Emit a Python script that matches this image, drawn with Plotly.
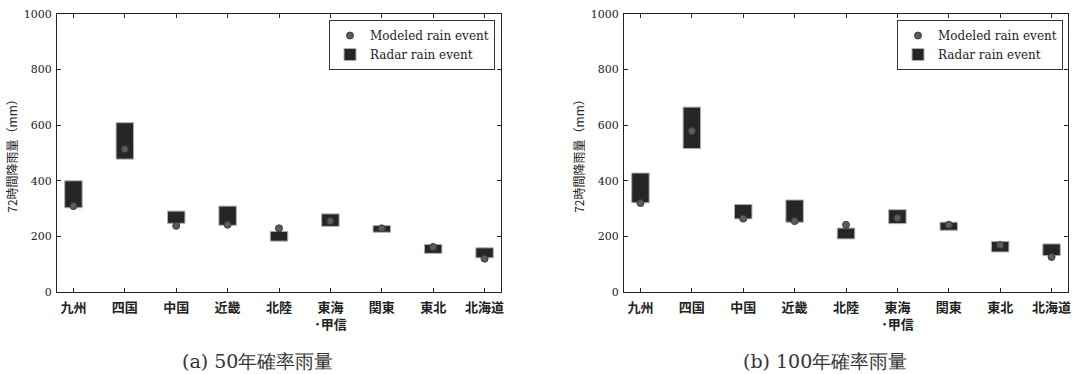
import plotly.graph_objects as go

categories = ["九州", "四国", "中国", "近畿", "北陸", "東海<br>･甲信", "関東", "東北", "北海道"]

# (a) 50-year
radar_top_50 = [400, 609, 291, 309, 218, 281, 239, 171, 159]
radar_bottom_50 = [303, 478, 247, 240, 183, 236, 215, 139, 123]
modeled_50 = [309, 514, 238, 242, 229, 255, 229, 162, 120]

# (b) 100-year
radar_top_100 = [428, 665, 315, 331, 230, 296, 251, 182, 173]
radar_bottom_100 = [321, 516, 263, 251, 191, 246, 222, 144, 131]
modeled_100 = [320, 579, 264, 255, 242, 266, 242, 169, 126]

y_ticks = [0, 200, 400, 600, 800, 1000]
y_title = "72時間降雨量（mm）"
captions = ["(a) 50年確率雨量", "(b) 100年確率雨量"]

W, H = 1079, 374
SERIF = "DejaVu Serif"
SANS = "Noto Sans CJK JP"

fig = go.Figure()

panels = [
    (radar_top_50, radar_bottom_50, modeled_50, "x", "y", "legend"),
    (radar_top_100, radar_bottom_100, modeled_100, "x2", "y2", "legend2"),
]
idx = list(range(len(categories)))
for top, bot, mod, xa, ya, lg in panels:
    fig.add_trace(go.Bar(
        x=idx, y=[t - b for t, b in zip(top, bot)], base=bot,
        width=0.34, xaxis=xa, yaxis=ya, legend=lg,
        name="Radar rain event", legendrank=2,
        marker=dict(color="#262626", line=dict(color="#b0b0b0", width=1)),
    ))
    fig.add_trace(go.Scatter(
        x=idx, y=mod, mode="markers", xaxis=xa, yaxis=ya, legend=lg,
        name="Modeled rain event", legendrank=1,
        marker=dict(color="#5c5c5c", size=7, line=dict(color="#3a3a3a", width=1)),
    ))

ydom = [1 - 292 / H, 1 - 14 / H]
xdoms = [[57 / W, 501 / W], [624 / W, 1068 / W]]
cap_x = [257 / W, 825 / W]

axis_common = dict(
    showline=True, linecolor="#222", linewidth=1, mirror="allticks",
    ticks="inside", ticklen=4, tickcolor="#222", showgrid=False, zeroline=False,
    automargin=False,
)
for i, (xd, cap, cx) in enumerate(zip(xdoms, captions, cap_x)):
    sx = "" if i == 0 else "2"
    fig.update_layout(**{
        f"xaxis{sx}": dict(
            domain=xd, range=[-0.32, 8.32], tickvals=idx,
            ticktext=[f"<b>{c}</b>" for c in categories],
            tickfont=dict(family=SANS, size=13, color="#222"), anchor=f"y{sx}",
            ticklabelstandoff=3, **axis_common,
        ),
        f"yaxis{sx}": dict(
            domain=ydom, range=[0, 1000], tickvals=y_ticks, anchor=f"x{sx}",
            tickfont=dict(family=SERIF, size=11, color="#222"), ticklabelstandoff=2,
            title=dict(text=y_title, font=dict(family=SANS, size=12, color="#222"), standoff=3),
            **axis_common,
        ),
    })
    fig.add_annotation(
        x=cx, y=1 - 361 / H, xref="paper", yref="paper",
        text=cap, showarrow=False, font=dict(family=SERIF, size=19, color="#333"),
        xanchor="center", yanchor="middle",
    )

legend_common = dict(
    xanchor="right", yanchor="top", bgcolor="white", bordercolor="#333", borderwidth=1,
    font=dict(family=SERIF, size=12, color="#222"), tracegroupgap=0,
    itemsizing="trace",
)
fig.update_layout(
    legend=dict(x=495 / W, y=1 - 20 / H, **legend_common),
    legend2=dict(x=1063 / W, y=1 - 20 / H, **legend_common),
    width=W, height=H, margin=dict(l=0, r=0, t=0, b=0),
    paper_bgcolor="white", plot_bgcolor="white", showlegend=True, barmode="overlay",
)

fig.write_html("out.html")
